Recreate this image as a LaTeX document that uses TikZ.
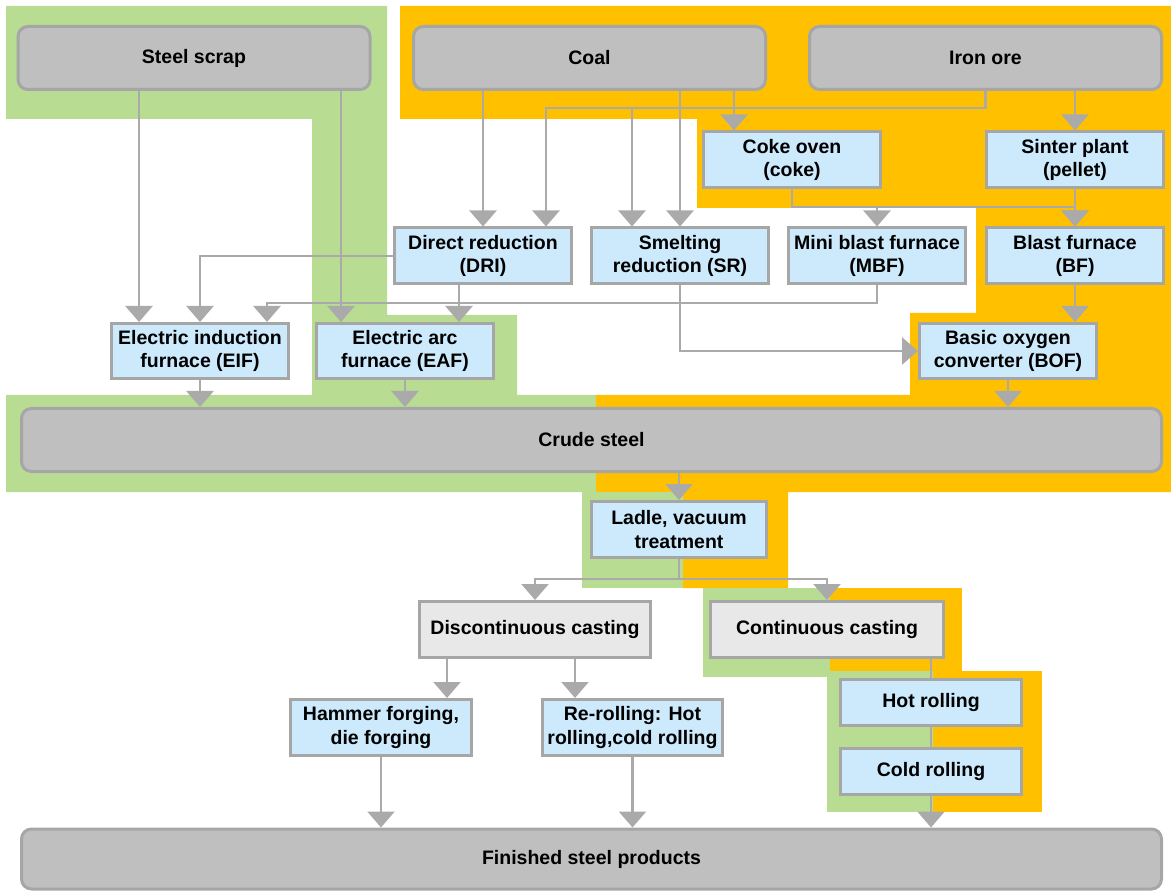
\documentclass[tikz,border=0pt]{standalone}
\usepackage{fontspec}
\setmainfont{Liberation Sans}
\usetikzlibrary{arrows.meta}
\definecolor{greenbg}{RGB}{184,220,146}
\definecolor{orangebg}{RGB}{255,192,0}
\definecolor{sourcegray}{RGB}{191,191,191}
\definecolor{boxline}{RGB}{166,166,166}
\definecolor{procblue}{RGB}{204,234,252}
\definecolor{castgray}{RGB}{232,232,232}
\definecolor{linegray}{RGB}{170,170,170}
\tikzstyle{source} = [rectangle, rounded corners=10pt, minimum width=352pt, minimum height=63pt, align=center, draw=boxline, fill=sourcegray, line width=3pt]
\tikzstyle{process} = [rectangle, minimum width=177pt, minimum height=56pt, inner sep=2pt, align=center, draw=boxline, fill=procblue, line width=3pt]
\tikzstyle{casting} = [rectangle, minimum height=56pt, inner sep=2pt, align=center, draw=boxline, fill=castgray, line width=3pt]
\tikzstyle{arrow} = [line width=2.5pt, draw=linegray, -{Triangle[width=27pt,length=16pt]}]
\tikzstyle{feed} = [line width=2.5pt, draw=linegray]

\begin{document}
\begin{tikzpicture}[x=1pt, y=-1pt, font=\bfseries\fontsize{19.5}{23.5}\selectfont] % pixel grid, y runs down

\useasboundingbox (0,0) rectangle (1171,893);

% Background areas
\fill [greenbg] (6,6) -- (387,6) -- (387,315) -- (517,315) -- (517,395) -- (596,395) -- (596,492) -- (6,492) -- (6,395) -- (312,395) -- (312,119) -- (6,119) -- cycle;
\fill [orangebg] (400,6) -- (1171,6) -- (1171,492) -- (788,492) -- (788,588) -- (683,588) -- (683,492) -- (596,492) -- (596,395) -- (910,395) -- (910,313) -- (976,313) -- (976,208) -- (697,208) -- (697,119) -- (400,119) -- cycle;
\fill [greenbg] (582,492) rectangle (683,588);
\fill [greenbg] (703,588) rectangle (830,677);
\fill [orangebg] (830,588) rectangle (962,671);
\fill [greenbg] (827,671) rectangle (933,812);
\fill [orangebg] (933,671) rectangle (1042,812);

% Nodes
\node (scrap) [source] at (194,58) {Steel scrap};
\node (coal) [source] at (589.5,58) {Coal};
\node (ore) [source] at (985.5,58) {Iron ore};
\node (coke) [process] at (792,160) {Coke oven\\(coke)};
\node (sinter) [process] at (1075,160) {Sinter plant\\(pellet)};
\node (dri) [process] at (483,256) {Direct reduction\\(DRI)};
\node (sr) [process] at (680,256) {Smelting\\reduction (SR)};
\node (mbf) [process] at (877,256) {Mini blast furnace\\(MBF)};
\node (bf) [process] at (1075,256) {Blast furnace\\(BF)};
\node (eif) [process, minimum height=55pt] at (200,351) {Electric induction\\furnace (EIF)};
\node (eaf) [process, minimum height=55pt] at (405,351) {Electric arc\\furnace (EAF)};
\node (bof) [process, minimum height=55pt] at (1008,351) {Basic oxygen\\converter (BOF)};
\node (crude) [source, minimum width=1140pt] at (591.5,440) {Crude steel};
\node (ladle) [process, minimum width=175pt] at (679,529.5) {Ladle, vacuum\\treatment};
\node (discont) [casting, minimum width=231pt] at (535,629.5) {Discontinuous casting};
\node (cont) [casting, minimum width=233pt] at (827,629.5) {Continuous casting};
\node (hammer) [process, minimum width=181pt] at (381,727.5) {Hammer forging,\\die forging};
\node (reroll) [process, minimum width=180pt] at (632.5,727.5) {Re-rolling: Hot\\rolling,cold rolling};
\node (hot) [process, minimum width=181pt, minimum height=46pt] at (931,702.5) {Hot rolling};
\node (cold) [process, minimum width=181pt, minimum height=46pt] at (931,771.5) {Cold rolling};
\node (finished) [source, minimum width=1140pt, minimum height=60pt] at (591.5,859) {Finished steel products};

% Bus points
\coordinate (orebus) at (546,108);
\coordinate (cokebus) at (792,207);
\coordinate (mbfbus) at (877,303);
\coordinate (ladlebus) at (679,579);

% Arrows
\draw [arrow] (scrap.south -| 139,0) -- (eif.north -| 139,0);
\draw [arrow] (scrap.south -| 341,0) -- (eaf.north -| 341,0);
\draw [arrow] (coal.south -| dri.north) -- (dri.north);
\draw [arrow] (coal.south -| sr.north) -- (sr.north);
\draw [arrow] (coal.south -| 734,0) -- (coke.north -| 734,0);
\draw [arrow] (ore.south) |- (orebus) -- (dri.north -| orebus);
\draw [arrow] (orebus -| 632,0) -- (sr.north -| 632,0);
\draw [arrow] (ore.south -| sinter.north) -- (sinter.north);
\draw [arrow] (coke.south) |- (cokebus -| bf.north) -- (bf.north);
\draw [arrow] (cokebus -| mbf.north) -- (mbf.north);
\draw [arrow] (sinter.south) -- (bf.north);
\draw [arrow] (bf.south) -- (bof.north -| bf.south);
\draw [arrow] (dri.west) -| (eif.north);
\draw [arrow] (dri.south -| 459,0) -- (eaf.north -| 459,0);
\draw [arrow] (mbf.south) |- (mbfbus -| 267,0) -- (eif.north -| 267,0);
\draw [arrow] (sr.south) |- (bof.west);
\draw [arrow] (eif.south) -- (crude.north -| eif.south);
\draw [arrow] (eaf.south) -- (crude.north -| eaf.south);
\draw [arrow] (bof.south) -- (crude.north -| bof.south);
\draw [arrow] (crude.south -| ladle.north) -- (ladle.north);
\draw [arrow] (ladle.south) |- (ladlebus -| discont.north) -- (discont.north);
\draw [arrow] (ladle.south) |- (ladlebus -| cont.north) -- (cont.north);
\draw [arrow] (discont.south -| 447,0) -- (hammer.north -| 447,0);
\draw [arrow] (discont.south -| 575,0) -- (reroll.north -| 575,0);
\draw [feed] (cont.south -| hot.north) -- (hot.north);
\draw [feed] (hot.south) -- (cold.north);
\draw [arrow] (cold.south) -- (finished.north -| cold.south);
\draw [arrow] (hammer.south) -- (finished.north -| hammer.south);
\draw [arrow] (reroll.south) -- (finished.north -| reroll.south);

\end{tikzpicture}
\end{document}
